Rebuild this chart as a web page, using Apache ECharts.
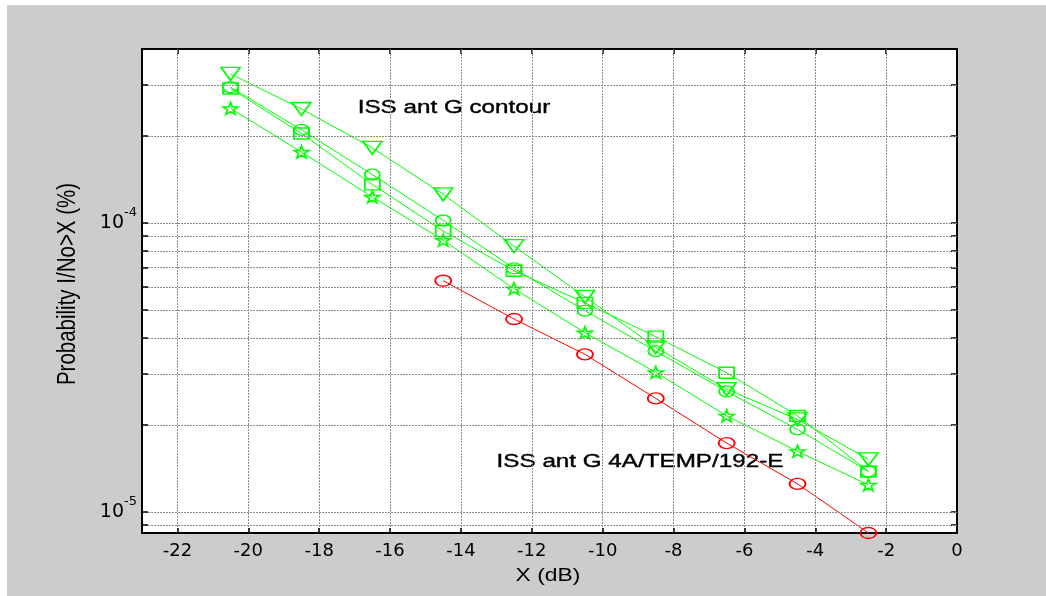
<!DOCTYPE html>
<html><head><meta charset="utf-8">
<script src="https://cdn.jsdelivr.net/npm/echarts@6/dist/echarts.min.js"></script>
<style>
html,body{margin:0;padding:0;background:#fff;}
#chart{width:1046px;height:596px;background:linear-gradient(#cccccc,#cccccc) no-repeat 7px 5px / 1039px 591px,#ffffff;}
</style></head><body><div id="chart"></div>
<script>
// ---- data ----
const xValues = [-20.5, -18.5, -16.5, -14.5, -12.5, -10.5, -8.5, -6.5, -4.5, -2.5];
const redX = [-14.5, -12.5, -10.5, -8.5, -6.5, -4.5, -2.5];
const redCircle = [6.31e-5, 4.65e-5, 3.51e-5, 2.47e-5, 1.73e-5, 1.25e-5, 8.45e-6];
const greenTriangle = [3.28e-4, 2.48e-4, 1.82e-4, 1.256e-4, 8.31e-5, 5.55e-5, 3.71e-5, 2.66e-5, 2.09e-5, 1.52e-5];
const greenCircle = [2.95e-4, 2.10e-4, 1.47e-4, 1.02e-4, 6.96e-5, 4.97e-5, 3.60e-5, 2.61e-5, 1.93e-5, 1.38e-5];
const greenSquare = [2.92e-4, 2.04e-4, 1.36e-4, 9.38e-5, 6.83e-5, 5.29e-5, 4.04e-5, 3.03e-5, 2.15e-5, 1.38e-5];
const greenStar = [2.49e-4, 1.76e-4, 1.23e-4, 8.72e-5, 5.92e-5, 4.17e-5, 3.04e-5, 2.15e-5, 1.62e-5, 1.24e-5];
const xTicks = [-22, -20, -18, -16, -14, -12, -10, -8, -6, -4, -2, 0];
const yMajorTicks = [1e-5, 1e-4];
const yGridValues = [9e-6, 1e-5, 2e-5, 3e-5, 4e-5, 5e-5, 6e-5, 7e-5, 8e-5, 9e-5, 1e-4, 2e-4, 3e-4, 4e-4];
const xRange = [-23, 0];
const yRange = [8.45e-6, 4e-4];
const xAxisTitle = 'X (dB)';
const yAxisTitle = 'Probability I/No>X (%)';
const note1 = 'ISS ant G contour';
const note2 = 'ISS ant G 4A/TEMP/192-E';

// ---- chart ----
const W = 1046, H = 596;
const GREEN = '#00ff00';
const RED = '#ff0000';
const starPath = 'path://M50,2 L61,36 L97,36 L68,57 L79,92 L50,71 L21,92 L32,57 L3,36 L39,36 Z';
const pair = (xs, ys) => xs.map((x, i) => [x, ys[i]]);
const isPow = v => Math.abs(Math.log10(v) - Math.round(Math.log10(v))) < 1e-6;

function mkSeries(name, xs, ys, color, symbol, size, rotate) {
  return {
    name, type: 'line', data: pair(xs, ys), z: 3, xAxisIndex: 0, yAxisIndex: 0,
    symbol, symbolSize: size, symbolRotate: rotate || 0, showAllSymbol: true,
    lineStyle: { color, width: 1 },
    itemStyle: { color: 'rgba(0,0,0,0)', borderColor: color, borderWidth: 1.6 },
    emphasis: { disabled: true }, animation: false
  };
}

const gridBox = { left: 142, right: 89, top: 49, bottom: 63 };
// tick lengths (px) expressed in axis units so the ticks follow the scales
const plotW = W - gridBox.left - gridBox.right;
const plotH = H - gridBox.top - gridBox.bottom;
const xTickLen = 6 * (xRange[1] - xRange[0]) / plotW;
const yTickFactor = Math.pow(10, 5 * Math.log10(yRange[1] / yRange[0]) / plotH);

const tickStyle = { color: '#000', width: 1.5 };
const xBase = { type: 'value', min: xRange[0], max: xRange[1], axisLine: { show: false }, splitLine: { show: false } };
const yBase = { type: 'log', logBase: 10, min: yRange[0], max: yRange[1], axisLine: { show: false }, splitLine: { show: false } };

const chart = echarts.init(document.getElementById('chart'), null, { renderer: 'canvas' });
chart.setOption({
  backgroundColor: 'transparent',
  animation: false,
  grid: { ...gridBox, show: true, backgroundColor: '#ffffff', borderColor: '#000', borderWidth: 2 },
  xAxis: [
    { ...xBase, position: 'bottom', axisTick: { show: false },
      axisLabel: { show: true, customValues: xTicks, margin: 9, fontFamily: 'DejaVu Sans', fontSize: 18, color: '#000' } },
    { ...xBase, position: 'top',
      axisTick: { show: true, inside: true, length: 5, customValues: xTicks, lineStyle: tickStyle },
      axisLabel: { show: false } }
  ],
  yAxis: [
    { ...yBase, position: 'left', axisTick: { show: false },
      axisLabel: { show: true, customValues: yMajorTicks, margin: 5,
        formatter: v => isPow(v) ? '{b|10}{s|' + Math.round(Math.log10(v)) + '}' : '',
        rich: {
          b: { fontFamily: 'DejaVu Sans', fontSize: 19, color: '#000', lineHeight: 34, verticalAlign: 'middle' },
          s: { fontFamily: 'DejaVu Sans', fontSize: 13, color: '#000', lineHeight: 14, verticalAlign: 'top' }
        } } },
    { ...yBase, position: 'right',
      axisTick: { show: true, inside: true, length: 6, customValues: yGridValues, lineStyle: tickStyle },
      axisLabel: { show: false } }
  ],
  series: [
    { type: 'line', data: [], z: 1, silent: true, xAxisIndex: 0, yAxisIndex: 0,
      markLine: { silent: true, symbol: 'none', animation: false, label: { show: false },
        lineStyle: { color: '#8c8c8c', type: [2, 1], width: 1 },
        emphasis: { disabled: true },
        data: [ ...xTicks.filter(v => v > xRange[0] && v < xRange[1]).map(v => [{ coord: [v, yRange[0]] }, { coord: [v, yRange[1]] }]),
                ...yGridValues.filter(v => v > yRange[0] && v < yRange[1]).map(v => [{ coord: [xRange[0], v] }, { coord: [xRange[1], v] }]) ] } },
    { type: 'line', data: [], z: 4, silent: true, xAxisIndex: 0, yAxisIndex: 0,
      markLine: { silent: true, symbol: 'none', animation: false, label: { show: false },
        lineStyle: { color: '#000', type: 'solid', width: 1.5 },
        emphasis: { disabled: true },
        data: [ ...xTicks.filter(v => v > xRange[0] && v < xRange[1]).map(v => [{ coord: [v, yRange[0]] }, { coord: [v, yRange[0] * yTickFactor] }]),
                ...yGridValues.filter(v => v > yRange[0] && v < yRange[1]).map(v => [{ coord: [xRange[0], v] }, { coord: [xRange[0] + xTickLen, v] }]) ] } },
    mkSeries('triangle', xValues, greenTriangle, GREEN, 'triangle', [19, 13], 180),
    mkSeries('circle', xValues, greenCircle, GREEN, 'circle', [15, 11]),
    mkSeries('square', xValues, greenSquare, GREEN, 'rect', [15, 11]),
    mkSeries('star', xValues, greenStar, GREEN, starPath, [15, 12]),
    mkSeries('red', redX, redCircle, RED, 'circle', [16, 11])
  ],
  graphic: [
    { type: 'text', x: 454, y: 108, scaleX: 1.275, silent: true,
      style: { text: note1, fontFamily: 'Liberation Sans', fontSize: 19, fill: '#000', stroke: '#000', lineWidth: 0.4, textAlign: 'center', textVerticalAlign: 'middle' } },
    { type: 'text', x: 640, y: 462, scaleX: 1.275, silent: true,
      style: { text: note2, fontFamily: 'Liberation Sans', fontSize: 19, fill: '#000', stroke: '#000', lineWidth: 0.4, textAlign: 'center', textVerticalAlign: 'middle' } },
    { type: 'text', x: 548, y: 576, scaleX: 1.27, silent: true,
      style: { text: xAxisTitle, fontFamily: 'Liberation Sans', fontSize: 18, fill: '#000', textAlign: 'center', textVerticalAlign: 'middle' } },
    { type: 'text', x: 68, y: 284, rotation: Math.PI / 2, scaleY: 1.25, silent: true,
      style: { text: yAxisTitle, fontFamily: 'Liberation Sans', fontSize: 20.5, fill: '#000', textAlign: 'center', textVerticalAlign: 'middle' } }
  ]
});
</script></body></html>
